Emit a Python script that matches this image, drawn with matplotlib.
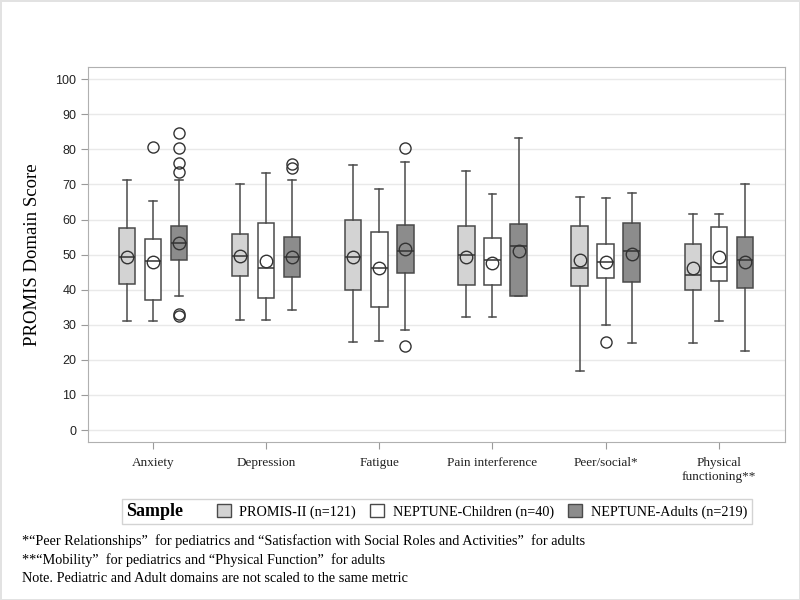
import numpy as np
import matplotlib.pyplot as plt
from matplotlib.patches import Patch
from matplotlib.offsetbox import HPacker

domains = ['Anxiety', 'Depression', 'Fatigue', 'Pain interference',
           'Peer/social*', 'Physical\nfunctioning**']

# PROMIS-II (n=121)
promis_lo = [31.2, 31.4, 25.0, 32.1, 16.8, 24.9]
promis_q1 = [41.7, 43.9, 40.0, 41.4, 41.1, 40.0]
promis_med = [49.4, 49.5, 49.4, 50.0, 46.2, 44.2]
promis_q3 = [57.6, 55.9, 59.8, 58.2, 58.2, 53.1]
promis_hi = [71.2, 70.1, 75.5, 73.9, 66.4, 61.7]
promis_mean = [49.4, 49.5, 49.4, 49.2, 48.6, 46.1]
promis_out = [[], [], [], [], [], []]

# NEPTUNE-Children (n=40)
children_lo = [31.2, 31.4, 25.5, 32.1, 30.0, 31.0]
children_q1 = [37.1, 37.5, 35.0, 41.4, 43.4, 42.5]
children_med = [48.1, 46.3, 46.3, 48.5, 48.0, 46.5]
children_q3 = [54.5, 59.0, 56.3, 54.6, 53.0, 58.0]
children_hi = [65.3, 73.2, 68.6, 67.2, 66.0, 61.7]
children_mean = [48.0, 48.1, 46.3, 47.6, 48.0, 49.2]
children_out = [[80.7], [], [], [], [25.0], []]

# NEPTUNE-Adults (n=219)
adults_lo = [38.1, 34.1, 28.4, 38.3, 24.9, 22.6]
adults_q1 = [48.5, 43.7, 44.9, 38.3, 42.3, 40.5]
adults_med = [53.2, 49.3, 50.9, 52.5, 51.1, 48.6]
adults_q3 = [58.2, 55.0, 58.4, 58.7, 59.0, 55.1]
adults_hi = [71.2, 71.2, 76.4, 83.3, 67.6, 70.2]
adults_mean = [53.3, 49.4, 51.5, 51.0, 50.2, 47.9]
adults_out = [[84.7, 80.3, 76.1, 73.4, 33.0, 32.6], [75.9, 74.6],
              [80.3, 24.1], [], [], []]

groups = [
    ('PROMIS-II (n=121)', '#d3d3d3',
     promis_lo, promis_q1, promis_med, promis_q3, promis_hi, promis_mean, promis_out),
    ('NEPTUNE-Children (n=40)', '#ffffff',
     children_lo, children_q1, children_med, children_q3, children_hi, children_mean, children_out),
    ('NEPTUNE-Adults (n=219)', '#8c8c8c',
     adults_lo, adults_q1, adults_med, adults_q3, adults_hi, adults_mean, adults_out),
]

serif = 'Liberation Serif'
edge = '#4a4a4a'

fig = plt.figure(figsize=(8, 6), dpi=100)
fig.patch.set_edgecolor('#e2e2e2')
fig.patch.set_linewidth(2)
ax = fig.add_axes([0.11, 0.2633, 0.871, 0.6247])

x = np.arange(len(domains))
offsets = [-0.23, 0.0, 0.23]
handles = []
for (name, color, lo, q1, med, q3, hi, mean, out), off in zip(groups, offsets):
    stats = []
    for i in range(len(domains)):
        stats.append(dict(whislo=lo[i], q1=q1[i], med=med[i], q3=q3[i],
                          whishi=hi[i], mean=mean[i], fliers=out[i]))
    ax.bxp(stats, positions=x + off, widths=0.145, patch_artist=True,
           showmeans=True, showfliers=True, capwidths=0.07,
           boxprops=dict(facecolor=color, edgecolor=edge, linewidth=1.1),
           whiskerprops=dict(color=edge, linewidth=1.1),
           capprops=dict(color=edge, linewidth=1.1),
           medianprops=dict(color='#333333', linewidth=1.1),
           meanprops=dict(marker='o', markerfacecolor='none',
                          markeredgecolor='#333333', markersize=9,
                          markeredgewidth=1.0),
           flierprops=dict(marker='o', markerfacecolor='none',
                           markeredgecolor='#333333', markersize=8,
                           markeredgewidth=1.0),
           manage_ticks=False, zorder=3)
    handles.append(Patch(facecolor=color, edgecolor=edge, linewidth=1, label=name))

ax.set_xlim(-0.574, 5.583)
ax.set_ylim(-3.4, 103.4)
ax.set_yticks(np.arange(0, 101, 10))
ax.set_xticks(x)
ax.set_xticklabels(domains, fontfamily=serif, fontsize=9.5)
for lab in ax.get_yticklabels():
    lab.set_fontfamily('Liberation Sans')
    lab.set_fontsize(9)
ax.yaxis.grid(True, color='#e9e9e9', linewidth=1, zorder=0)
ax.set_axisbelow(True)
for s in ax.spines.values():
    s.set_color('#b0b0b0')
ax.tick_params(axis='both', colors='#9a9a9a', length=5, labelcolor='#222222')
ax.tick_params(axis='x', pad=6)
ax.set_ylabel('PROMIS Domain Score', fontfamily=serif, fontsize=13.5, labelpad=10)

leg = fig.legend(handles=handles, loc='center', bbox_to_anchor=(0.546, 0.1475),
                 ncol=3, frameon=True, fancybox=False, edgecolor='#c8c8c8',
                 prop=dict(family=serif, size=10.2), handlelength=1.0,
                 handleheight=1.0, handletextpad=0.6, columnspacing=1.0,
                 borderpad=0.3, title='Sample',
                 title_fontproperties=dict(family=serif, size=13, weight='bold'))
# put title beside the entries
box = leg._legend_box
box._children = [HPacker(pad=0, sep=24, children=box.get_children(), align='center')]

notes = ['*\u201cPeer Relationships\u201d  for pediatrics and \u201cSatisfaction with Social Roles and Activities\u201d  for adults',
         '**\u201cMobility\u201d  for pediatrics and \u201cPhysical Function\u201d  for adults',
         'Note. Pediatric and Adult domains are not scaled to the same metric']
for k, t in enumerate(notes):
    fig.text(0.027, 0.098 - k * 0.031, t, fontfamily=serif, fontsize=10.3,
             va='center', ha='left')

fig.savefig('out.png', dpi=100, edgecolor=fig.get_edgecolor())
